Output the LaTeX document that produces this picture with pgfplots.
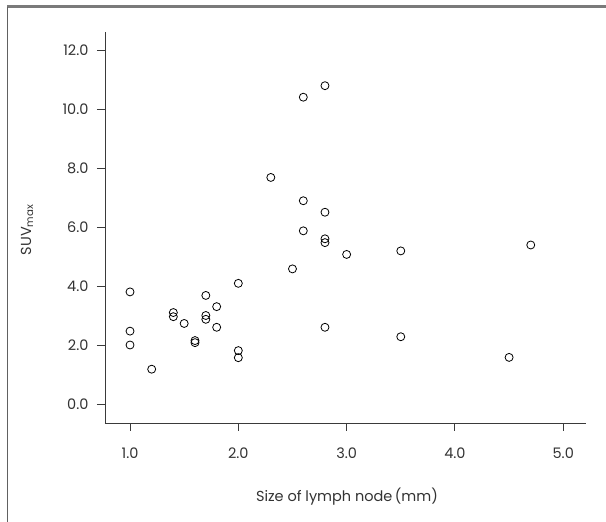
\documentclass[border=0pt]{standalone}
\usepackage{fontspec}
\setmainfont{Poppins}
\usepackage{pgfplots}
\pgfplotsset{compat=1.18}
\definecolor{txt}{HTML}{333333}
\definecolor{frame}{HTML}{7A7A7A}
\definecolor{axl}{HTML}{3A3A3A}
\begin{document}
\begin{tikzpicture}[x=1pt,y=1pt]
\path[use as bounding box] (0,0) rectangle (606,522);
\draw[frame, line width=3pt] (7,515) -- (606,515);
\draw[axl!80, line width=1pt] (7,515) -- (7,0);
\begin{axis}[
  at={(105pt,99pt)}, anchor=south west,
  scale only axis, width=481pt, height=391pt,
  xmin=0.769, xmax=5.21, ymin=-0.644, ymax=12.61,
  axis x line=bottom, axis y line=left,
  axis line style={axl, line width=0.9pt, -},
  every tick/.style={axl, line width=0.9pt},
  tick align=outside, major tick length=8pt,
  xtick={1,2,3,4,5}, ytick={0,2,4,6,8,10,12},
  /pgf/number format/assume math mode=true,
  /pgf/number format/.cd, fixed, fixed zerofill, precision=1, /pgfplots/.cd,
  tick label style={font=\fontsize{14.5}{16}\selectfont, text=txt},
  xticklabel style={yshift=-13pt},
  yticklabel style={xshift=-5pt},
  xlabel={Size of lymph node\,(mm)},
  ylabel={SUV\textsubscript{max}},
  label style={font=\fontsize{14.5}{16}\selectfont, text=txt},
  xlabel style={at={(axis description cs:0.503,-0.189)}, anchor=center},
  ylabel style={at={(axis description cs:-0.162,0.494)}, anchor=center, rotate=0},
  clip=false,
]
\addplot[only marks, mark=o, mark size=4pt, mark options={line width=0.8pt, draw=black}] coordinates {
(1.0,3.80) (1.0,2.47) (1.0,2.00)
(1.2,1.18)
(1.4,3.10) (1.4,2.96)
(1.5,2.73)
(1.6,2.15) (1.6,2.08)
(1.7,3.68) (1.7,3.00) (1.7,2.87)
(1.8,3.30) (1.8,2.60)
(2.0,4.09) (2.0,1.81) (2.0,1.57)
(2.3,7.68)
(2.5,4.58)
(2.6,10.40) (2.6,6.89) (2.6,5.87)
(2.8,10.79) (2.8,6.50) (2.8,5.60) (2.8,5.47) (2.8,2.60)
(3.0,5.07)
(3.5,5.19) (3.5,2.28)
(4.5,1.58)
(4.7,5.39)
};
\end{axis}
\end{tikzpicture}
\end{document}
